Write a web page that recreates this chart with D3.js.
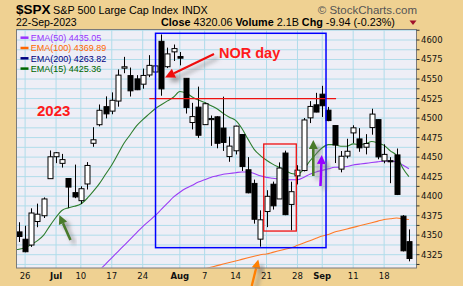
<!DOCTYPE html>
<html lang="en">
  <head>
    <meta charset="utf-8" />
    <title>$SPX daily</title>
    <script src="https://d3js.org/d3.v7.min.js"></script>
    <style>
      body { margin: 0; background: #efd192; }
      svg { display: block; }
    </style>
  </head>
  <body>
    <svg id="chart" width="463" height="286"></svg>

    <script>
      // daily bars, Jun 22 .. Sep 22 2023
      const dates = ["06-22","06-23","06-26","06-27","06-28","06-29","06-30",
        "07-03","07-05","07-06","07-07","07-10","07-11","07-12","07-13","07-14","07-17","07-18","07-19","07-20","07-21",
        "07-24","07-25","07-26","07-27","07-28","07-31",
        "08-01","08-02","08-03","08-04","08-07","08-08","08-09","08-10","08-11","08-14","08-15","08-16","08-17","08-18",
        "08-21","08-22","08-23","08-24","08-25","08-28","08-29","08-30","08-31",
        "09-01","09-05","09-06","09-07","09-08","09-11","09-12","09-13","09-14","09-15","09-18","09-19","09-20","09-21","09-22"];
      const opens = [4355.4,4354.2,4344.8,4337.4,4367.5,4374.9,4422.4,
        4450.5,4442.0,4422.6,4404.5,4394.2,4415.6,4467.7,4491.5,4514.6,4508.9,4521.8,4563.9,4554.4,4550.2,
        4543.4,4555.2,4559.0,4598.3,4565.8,4584.8,
        4578.8,4550.9,4494.3,4514.0,4491.6,4498.0,4501.6,4487.2,4450.7,4458.1,4478.9,4433.8,4416.3,4344.9,
        4380.3,4415.3,4396.4,4455.2,4389.4,4426.0,4432.8,4500.3,4517.0,
        4530.6,4510.1,4490.4,4434.6,4451.3,4481.0,4473.3,4462.7,4487.8,4498.0,4445.1,4445.4,4452.8,4374.4,4341.7];
      const highs = [4382.3,4366.6,4362.1,4384.4,4390.4,4398.4,4458.5,
        4456.5,4454.1,4422.6,4440.4,4412.6,4443.6,4488.3,4517.4,4527.8,4532.9,4562.3,4578.4,4564.7,4555.0,
        4563.4,4580.6,4582.5,4607.1,4590.2,4594.2,
        4584.6,4550.9,4519.5,4540.3,4519.8,4503.3,4502.4,4527.4,4476.2,4490.3,4478.9,4450.0,4421.2,4381.8,
        4407.6,4418.6,4443.2,4458.3,4418.5,4439.6,4500.1,4521.7,4532.3,
        4541.3,4514.3,4490.4,4457.8,4473.5,4490.8,4487.1,4479.4,4512.0,4498.0,4466.4,4449.9,4461.0,4375.7,4357.4];
      const lows = [4351.8,4341.3,4328.1,4335.0,4360.2,4372.0,4422.4,
        4442.3,4436.6,4385.1,4397.4,4389.9,4408.5,4463.2,4489.4,4499.6,4504.9,4514.6,4557.5,4527.6,4535.8,
        4537.6,4552.4,4547.6,4528.6,4564.0,4573.1,
        4567.5,4505.8,4485.5,4474.6,4491.2,4464.4,4461.3,4457.9,4444.0,4453.4,4432.2,4403.6,4364.8,4335.3,
        4360.3,4382.8,4396.4,4375.6,4356.3,4415.0,4431.7,4493.6,4507.4,
        4501.4,4496.0,4442.4,4430.5,4448.4,4467.9,4456.8,4453.5,4478.7,4447.2,4442.1,4416.6,4401.4,4329.2,4316.5];
      const closes = [4381.9,4348.3,4328.8,4378.4,4376.9,4396.4,4450.4,
        4455.6,4446.8,4411.6,4399.0,4409.5,4439.3,4472.2,4510.0,4505.4,4522.8,4555.0,4565.7,4534.9,4536.3,
        4554.6,4567.5,4566.8,4537.4,4582.2,4589.0,
        4576.7,4513.4,4501.9,4478.0,4518.4,4499.4,4467.7,4468.8,4464.1,4489.7,4437.9,4404.3,4370.4,4369.7,
        4399.8,4387.6,4436.0,4376.3,4405.7,4433.3,4497.6,4514.9,4507.7,
        4515.8,4496.8,4465.5,4451.1,4457.5,4487.5,4461.9,4467.4,4505.1,4450.3,4453.5,4444.0,4402.2,4330.0,4320.1];

      // moving averages (first value is on the given date)
      const ema15Start = "06-22";
      const ema15 = [4331,4332,4334,4338,4343,4350,4362,4373,4382,4385,4387,4390,4397,4406,4416,4428,4440,4454,4468,4479,
        4490,4498,4505,4512,4517,4522,4527,4534,4532,4527,4523,4520,4516,4512,4506,4501,4497,4487,4473,4460,
        4452,4446,4441,4437,4433,4429,4428,4434,4445,4454,4462,4466,4466,4464,4464,4467,4466,4467,4470,4468,
        4465,4458,4452,4436,4425];
      const ema50Start = "07-12";
      const ema50 = [4298,4305,4313,4321,4329,4337,4345,4353,4361,4368,4375,4383,4391,4399,4405,4410,4414,4418,4421,4424,
        4426,4428,4429,4430,4431,4431,4429,4426,4424,4423,4422,4421,4421,4421,4424,4428,4431,4433,4435,4437,
        4437,4438,4440,4441,4442,4443,4444,4445,4445,4444,4440,4435];
      const ema100Start = "08-07";
      const ema100 = [4307,4309,4311,4313,4315,4317,4319,4321,4323,4325,4326,4328,4330,4332,4334,4337,4340,4343,4346,4349,
        4351,4354,4356,4358,4360,4362,4364,4366,4368,4370,4371,4372,4371,4370];

      const xTickDates = ["06-26","07-03","07-10","07-17","07-24","08-01","08-07","08-14","08-21","08-28","09-01","09-11","09-18"];
      const xTickLabels = ["26","Jul","10","17","24","Aug","7","14","21","28","Sep","11","18"];
      const yTickLabels = [4325,4350,4375,4400,4425,4450,4475,4500,4525,4550,4575,4600];

      const legendNames = ["EMA(50) 4435.05","EMA(100) 4369.89","EMA(200) 4263.82","EMA(15) 4425.36"];
      const legendColors = ["#9933ff","#ff6600","#000080","#006600"];

      const svg = d3.select("#chart");
      const plot = {left: 16.5, top: 29.5, right: 416.5, bottom: 268};

      const x = d3.scalePoint().domain(dates).range([12.72, 408.9]);
      const xi = d3.scaleLinear().domain([0, dates.length - 1]).range([12.72, 408.9]);
      const y = d3.scaleLinear().domain([4325, 4600]).range([254.7, 40]);

      const serif = "'Liberation Sans', Arial, sans-serif";
      const axisFont = "'DejaVu Sans', Verdana, sans-serif";

      // shadows for the hand-drawn arrows
      const defs = svg.append("defs");
      const f = defs.append("filter").attr("id", "shadow").attr("x", "-50%").attr("y", "-50%").attr("width", "200%").attr("height", "200%");
      f.append("feDropShadow").attr("dx", 4).attr("dy", 4).attr("stdDeviation", 2.2)
        .attr("flood-color", "#777").attr("flood-opacity", 0.7);
      defs.append("clipPath").attr("id", "clip").append("rect")
        .attr("x", plot.left + 0.5).attr("y", plot.top + 0.5)
        .attr("width", plot.right - plot.left - 1).attr("height", plot.bottom - plot.top - 1);

      // header
      const h1 = svg.append("text").attr("x", 16).attr("y", 13.5).attr("font-family", serif).attr("fill", "#000");
      h1.append("tspan").attr("font-size", 13.5).attr("font-weight", "bold").text("$SPX");
      svg.append("text").attr("x", 53).attr("y", 13.5).attr("font-family", serif).attr("font-size", 10.8).text("S&P 500 Large Cap Index");
      svg.append("text").attr("x", 182).attr("y", 13.5).attr("font-family", serif).attr("font-size", 10.8).text("INDX");
      svg.append("text").attr("x", 417).attr("y", 13.5).attr("text-anchor", "end").attr("font-family", serif)
        .attr("font-size", 11.5).attr("fill", "#555").text("\u00A9 StockCharts.com");
      svg.append("text").attr("x", 16).attr("y", 25.7).attr("font-family", serif).attr("font-size", 10.5).text("22-Sep-2023");
      const h2 = svg.append("text").attr("x", 161).attr("y", 25.7).attr("font-family", serif).attr("font-size", 10.8);
      h2.append("tspan").attr("font-weight", "bold").text("Close");
      h2.append("tspan").text(" 4320.06 ");
      h2.append("tspan").attr("font-weight", "bold").text(" Volume");
      h2.append("tspan").text(" 2.1B ");
      h2.append("tspan").attr("font-weight", "bold").text(" Chg");
      h2.append("tspan").text(" -9.94 (-0.23%)");
      svg.append("path").attr("d", "M409.5,20.5 L416.5,20.5 L413,25 Z").attr("fill", "#a0102a");

      // plot frame + grid
      svg.append("rect").attr("x", plot.left).attr("y", plot.top)
        .attr("width", plot.right - plot.left).attr("height", plot.bottom - plot.top)
        .attr("fill", "#eeeef6");

      const gridVals = d3.range(4312.5, 4613, 12.5);
      svg.append("g").selectAll("line").data(gridVals).join("line")
        .attr("x1", plot.left).attr("x2", plot.right)
        .attr("y1", d => y(d)).attr("y2", d => y(d))
        .attr("stroke", "#b0dcea").attr("stroke-width", 1);
      svg.append("g").selectAll("line").data(xTickDates).join("line")
        .attr("x1", d => x(d)).attr("x2", d => x(d))
        .attr("y1", plot.top).attr("y2", plot.bottom)
        .attr("stroke", "#b0dcea").attr("stroke-width", 1);

      const g = svg.append("g").attr("clip-path", "url(#clip)");

      // moving averages
      function emaLine(start, vals, color) {
        const i0 = dates.indexOf(start);
        g.append("path")
          .datum(vals.map((v, k) => [dates[i0 + k], v]))
          .attr("fill", "none").attr("stroke", color).attr("stroke-width", 1.1)
          .attr("d", d3.line().x(d => x(d[0])).y(d => y(d[1])).curve(d3.curveMonotoneX));
      }
      emaLine(ema100Start, ema100, "#ff7a26");
      emaLine(ema50Start, ema50, "#9a3cf5");
      emaLine(ema15Start, ema15, "#2d7d2d");

      // candles
      const bars = dates.map((d, i) => ({d, o: opens[i], h: highs[i], l: lows[i], c: closes[i]}));
      g.append("g").selectAll("line").data(bars).join("line")
        .attr("x1", d => Math.round(x(d.d)) + 0.5).attr("x2", d => Math.round(x(d.d)) + 0.5)
        .attr("y1", d => y(d.h)).attr("y2", d => y(d.l))
        .attr("stroke", "#000").attr("stroke-width", 1);
      g.append("g").selectAll("rect").data(bars).join("rect")
        .attr("x", d => Math.round(x(d.d)) - 2)
        .attr("y", d => y(Math.max(d.o, d.c)))
        .attr("width", 5)
        .attr("height", d => Math.max(1, Math.abs(y(d.o) - y(d.c))))
        .attr("fill", d => d.c >= d.o ? "#fff" : "#000")
        .attr("stroke", "#000").attr("stroke-width", 1);

      // annotations (index along the bars, price)
      const ann = g.append("g");
      ann.append("line")
        .attr("x1", xi(22.06)).attr("x2", xi(52.23)).attr("y1", y(4525)).attr("y2", y(4525))
        .attr("stroke", "#ee1111").attr("stroke-width", 1.2);
      ann.append("rect")
        .attr("x", xi(23.07)).attr("y", y(4608.6))
        .attr("width", xi(50.61) - xi(23.07)).attr("height", y(4334) - y(4608.6))
        .attr("fill", "none").attr("stroke", "#0000ff").attr("stroke-width", 1.5);
      ann.append("rect")
        .attr("x", xi(40.55)).attr("y", y(4466.8))
        .attr("width", xi(45.81) - xi(40.55)).attr("height", y(4355.3) - y(4466.8))
        .attr("fill", "none").attr("stroke", "#ee1111").attr("stroke-width", 1.3);

      svg.append("text").attr("x", xi(33.32)).attr("y", y(4576.6))
        .attr("font-family", serif).attr("font-weight", "bold").attr("font-size", 14.5)
        .attr("fill", "#ff1a1a").text("NOR day");
      svg.append("text").attr("x", xi(3.92)).attr("y", y(4502.7))
        .attr("font-family", serif).attr("font-weight", "bold").attr("font-size", 15)
        .attr("fill", "#ff1a1a").text("2023");

      function arrow(t0, v0, t1, v1, color, w, head) {
        const x0 = xi(t0), y0 = y(v0), x1 = xi(t1), y1 = y(v1);
        const len = Math.hypot(x1 - x0, y1 - y0);
        const ux = (x1 - x0) / len, uy = (y1 - y0) / len;
        const bx = x1 - ux * head, by = y1 - uy * head;
        const a = svg.append("g").attr("filter", "url(#shadow)");
        a.append("line").attr("x1", x0).attr("y1", y0).attr("x2", bx).attr("y2", by)
          .attr("stroke", color).attr("stroke-width", w);
        const hw = head * 0.5;
        a.append("path")
          .attr("d", `M${x1},${y1} L${bx - uy * hw},${by + ux * hw} L${bx + uy * hw},${by - ux * hw} Z`)
          .attr("fill", color);
      }
      arrow(32.52, 4582, 24.6, 4552, "#ee1111", 2.2, 10);
      arrow(9.33, 4343.8, 7.53, 4375.8, "#4a7a2a", 2.6, 9);
      arrow(48.56, 4425.8, 48.56, 4471.9, "#4a7a2a", 2.6, 9);
      arrow(49.72, 4413, 49.92, 4452.7, "#9900ff", 2.6, 9);
      arrow(38.61, 4284.9, 39.67, 4318.8, "#ff8000", 2.4, 9);

      // frame
      svg.append("rect").attr("x", plot.left).attr("y", plot.top)
        .attr("width", plot.right - plot.left).attr("height", plot.bottom - plot.top)
        .attr("fill", "none").attr("stroke", "#7a7a7a").attr("stroke-width", 1);

      // legend
      const lg = svg.append("g");
      legendNames.forEach((name, k) => {
        const cy = 37.7 + k * 10.3;
        lg.append("line").attr("x1", 20.5).attr("x2", 28.5).attr("y1", cy).attr("y2", cy)
          .attr("stroke", legendColors[k]).attr("stroke-width", 2.5);
        lg.append("text").attr("x", 30.7).attr("y", cy + 3.3)
          .attr("font-family", serif).attr("font-size", 9).attr("fill", legendColors[k]).text(name);
      });

      // right axis
      const ra = svg.append("g");
      ra.selectAll("line").data(gridVals.filter(v => y(v) > plot.top && y(v) < plot.bottom)).join("line")
        .attr("x1", plot.right).attr("x2", plot.right + 3)
        .attr("y1", d => y(d)).attr("y2", d => y(d)).attr("stroke", "#333");
      ra.selectAll("text").data(yTickLabels).join("text")
        .attr("x", 421).attr("y", d => y(d)).attr("dy", "0.35em")
        .attr("font-family", axisFont).attr("font-size", 8.5).attr("fill", "#111")
        .text(d => d);

      // date axis
      svg.append("g").selectAll("text").data(xTickDates).join("text")
        .attr("x", d => x(d)).attr("y", 279)
        .attr("text-anchor", "middle")
        .attr("font-family", axisFont).attr("font-size", 8.5)
        .attr("font-weight", (d, i) => isNaN(+xTickLabels[i]) ? "bold" : "normal")
        .attr("fill", "#111")
        .text((d, i) => xTickLabels[i]);
    </script>
  </body>
</html>
